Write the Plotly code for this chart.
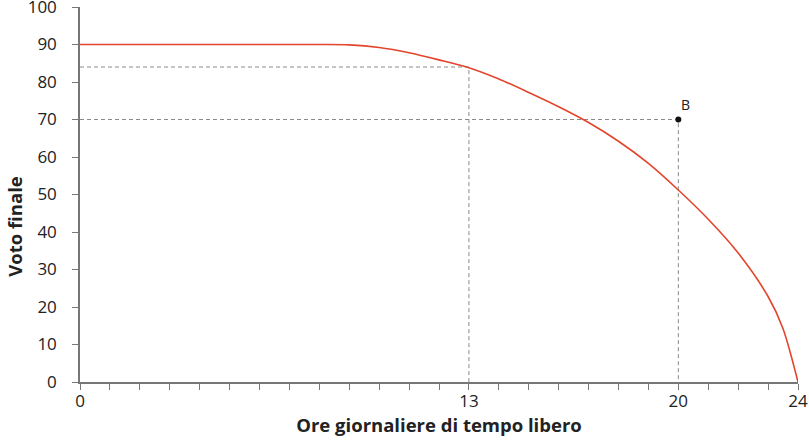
import plotly.graph_objects as go

# Ore giornaliere di tempo libero -> voto finale
hours = [0, 8, 9, 10, 11, 12, 13, 14, 15, 16, 17, 18, 19, 20, 21, 22, 23, 23.5, 24]
grade = [90, 90, 89.9, 89.2, 87.8, 85.9, 83.8, 80.8, 77.2, 73.4, 69.2, 64.2, 58.3, 51.2, 43.4, 34.4, 22.8, 14.2, 0]

# reference points (hours, grade)
ref_x = [13, 20]
ref_y = [84, 70]
point_b = (20, 70)

x_ticks = list(range(25))
x_labels = [str(t) if t in (0, 13, 20, 24) else "" for t in x_ticks]
y_ticks = list(range(0, 101, 10))

red = "#e2452c"
grey = "#8a8a8a"
font = "Open Sans"

fig = go.Figure()

# dashed guide lines
for rx, ry in zip(ref_x, ref_y):
    fig.add_trace(go.Scatter(x=[0, rx, rx], y=[ry, ry, 0], mode="lines",
                             line=dict(color=grey, width=1, dash="4px,3px"),
                             hoverinfo="skip", showlegend=False))

fig.add_trace(go.Scatter(x=hours, y=grade, mode="lines",
                         line=dict(color=red, width=1.6, shape="spline", smoothing=0.8),
                         showlegend=False, cliponaxis=False))

fig.add_trace(go.Scatter(x=[point_b[0]], y=[point_b[1]], mode="markers",
                         marker=dict(color="#111111", size=6),
                         showlegend=False, cliponaxis=False))

fig.add_annotation(x=point_b[0], y=point_b[1], text="B", showarrow=False,
                   xshift=7, yshift=15, font=dict(size=14, color="#222"))

# y title sits a bit below the middle of the axis, as in the original
fig.add_annotation(x=0, y=0.414, xref="paper", yref="paper", text="<b>Voto finale</b>",
                   textangle=-90, showarrow=False, xanchor="center", yanchor="middle",
                   xshift=-65, font=dict(size=18.5, color="#222"))

fig.update_layout(
    width=809, height=444,
    margin=dict(l=80, r=11, t=7, b=62),
    plot_bgcolor="white", paper_bgcolor="white",
    font=dict(family=font, size=17, color="#222"),
)

fig.update_xaxes(
    range=[0, 24], tickvals=x_ticks, ticktext=x_labels,
    ticks="outside", ticklen=6, tickcolor="#777", tickwidth=1.3,
    ticklabelstandoff=-3, ticklabeloverflow="allow",
    showline=True, linecolor="#777", linewidth=1.5,
    showgrid=False, zeroline=False, automargin=False,
    title=dict(text="<b>Ore giornaliere di tempo libero</b>", font=dict(size=18.5), standoff=6),
)
fig.update_yaxes(
    range=[0, 100], tickvals=y_ticks,
    ticks="outside", ticklen=6, tickcolor="#777", tickwidth=1.3,
    ticklabelstandoff=12, ticklabeloverflow="allow",
    showline=True, linecolor="#777", linewidth=1.5,
    showgrid=False, zeroline=False, automargin=False,
)

# drop the default 8px page margin so the figure fills the window
fig.write_html("out.html", config={"displayModeBar": False},
               post_script="document.body.style.margin = '0';")
